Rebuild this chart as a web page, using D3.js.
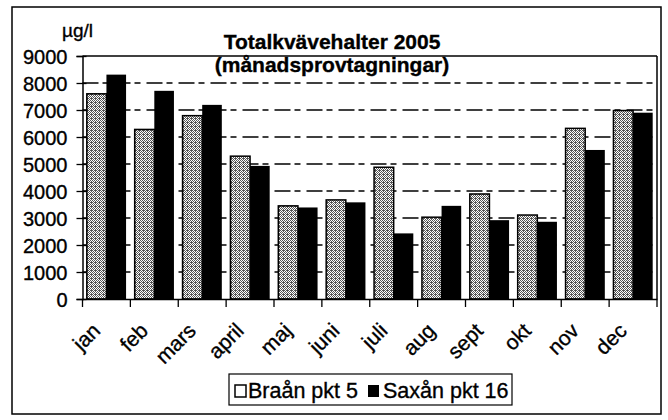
<!DOCTYPE html>
<html><head><meta charset="utf-8">
<script src="https://cdn.jsdelivr.net/npm/d3@7/dist/d3.min.js"></script>
<style>body{margin:0;background:#fff}svg{display:block;font-family:"Liberation Sans",Arial,sans-serif}
text{stroke:#000;stroke-width:0.35px}</style>
</head><body><svg id="c" width="668" height="420"></svg>
<script>
const months = ["jan","feb","mars","april","maj","juni","juli","aug","sept","okt","nov","dec"];
const braan = [7600,6280,6790,5290,3450,3670,4880,3030,3890,3110,6320,6980];
const saxan = [8310,7710,7190,4930,3390,3580,2430,3450,2920,2860,5520,6900];
const seriesNames = ["Braån pkt 5","Saxån pkt 16"];
const yTicks = [0,1000,2000,3000,4000,5000,6000,7000,8000,9000];
const titleLines = ["Totalkvävehalter 2005","(månadsprovtagningar)"];
const unitLabel = "µg/l";

const svg = d3.select("#c");
const defs = svg.append("defs");
const pat = defs.append("pattern").attr("id","dots").attr("patternUnits","userSpaceOnUse")
  .attr("width",4).attr("height",4);
pat.append("rect").attr("width",4).attr("height",4).attr("fill","#fff");
[[0,0],[2,0],[1,1],[3,1],[0,2],[2,2],[3,3],[1,3],[3,2]].forEach(([x,y])=>pat.append("rect").attr("x",x).attr("y",y).attr("width",1).attr("height",1).attr("fill","#555"));

const L=82.5, R=657, T=56, B=299;
const x = d3.scaleBand().domain(months).range([L,R]).paddingInner(0.18).paddingOuter(0.09);
const xs = d3.scaleBand().domain([0,1]).range([0,x.bandwidth()]);
const y = d3.scaleLinear().domain([0,9000]).range([B,T]);

// outer border
svg.append("rect").attr("x",12).attr("y",7).attr("width",649).attr("height",407)
  .attr("fill","none").attr("stroke","#000").attr("stroke-width",1.5);

// gridlines
svg.append("g").selectAll("line").data(yTicks.filter(d=>d>0&&d<9000)).join("line")
  .attr("x1",L).attr("x2",R).attr("y1",d=>y(d)).attr("y2",d=>y(d))
  .attr("stroke","#000").attr("stroke-width",1.3).attr("stroke-dasharray","16,4,6,6");

// plot box top & right
svg.append("line").attr("x1",L).attr("x2",R).attr("y1",T).attr("y2",T).attr("stroke","#000").attr("stroke-width",1.5);
svg.append("line").attr("x1",R).attr("x2",R).attr("y1",T).attr("y2",B).attr("stroke","#000").attr("stroke-width",1.5);

// bars
const g = svg.append("g");
months.forEach((m,i)=>{
  g.append("rect").attr("x",x(m)+xs(0)).attr("y",y(braan[i])).attr("width",xs.bandwidth()).attr("height",B-y(braan[i]))
    .attr("fill","url(#dots)").attr("stroke","#000").attr("stroke-width",1.5);
  g.append("rect").attr("x",x(m)+xs(1)).attr("y",y(saxan[i])).attr("width",xs.bandwidth()).attr("height",B-y(saxan[i]))
    .attr("fill","#000");
});

// y axis
const ya = svg.append("g").attr("transform",`translate(${L},0)`)
  .call(d3.axisLeft(y).tickValues(yTicks).tickSize(6).tickPadding(9).tickFormat(d3.format("d")));
ya.select(".domain").attr("stroke-width",1.5);
ya.selectAll(".tick line").attr("x2",4).attr("x1",-6).attr("stroke-width",1.3);
ya.selectAll("text").attr("font-size",20).attr("fill","#000").attr("font-family","Liberation Sans, Arial, sans-serif").attr("dy","0.36em");

// x axis
const xa = svg.append("g").attr("transform",`translate(0,${B})`)
  .call(d3.axisBottom(x).tickSize(0).tickFormat(""));
xa.select(".domain").attr("stroke-width",1.5);
const step = x.step();
svg.append("g").selectAll("line").data(d3.range(months.length+1)).join("line")
  .attr("x1",i=>L+i*step).attr("x2",i=>L+i*step).attr("y1",B).attr("y2",B+8)
  .attr("stroke","#000").attr("stroke-width",1.3);
svg.append("g").selectAll("text").data(months).join("text")
  .attr("transform",d=>`translate(${x(d)+x.bandwidth()/2-5},${B+33}) rotate(-45)`)
  .attr("text-anchor","end").attr("font-size",21).text(d=>d);

// titles
svg.append("text").attr("x",332).attr("y",49).attr("text-anchor","middle").attr("font-size",21).attr("font-weight","bold").text(titleLines[0]);
svg.append("text").attr("x",332).attr("y",72).attr("text-anchor","middle").attr("font-size",21).attr("font-weight","bold").text(titleLines[1]);
svg.append("text").attr("x",62).attr("y",37).attr("font-size",19).text(unitLabel);

// legend
const lg = svg.append("g");
lg.append("rect").attr("x",229).attr("y",374).attr("width",283).attr("height",31).attr("fill","#fff").attr("stroke","#000").attr("stroke-width",1.2);
lg.append("rect").attr("x",235).attr("y",385).attr("width",11).attr("height",12).attr("fill","#fff").attr("stroke","#000").attr("stroke-width",1.5);
lg.append("text").attr("x",248).attr("y",398).attr("font-size",21.5).text(seriesNames[0]);
lg.append("rect").attr("x",368).attr("y",385).attr("width",11).attr("height",12).attr("fill","#000");
lg.append("text").attr("x",383).attr("y",398).attr("font-size",21.5).text(seriesNames[1]);
</script></body></html>
